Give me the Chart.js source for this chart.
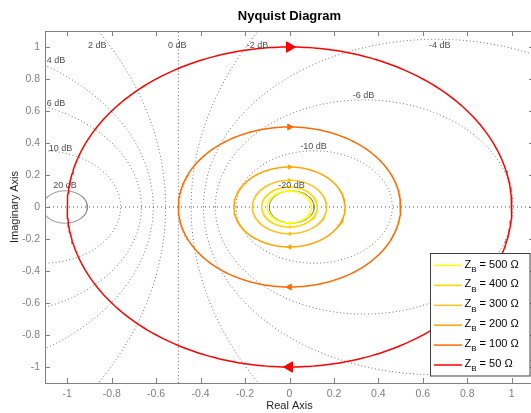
<!DOCTYPE html>
<html>
<head>
<meta charset="utf-8">
<script src="https://cdn.jsdelivr.net/npm/chart.js@4.4.0/dist/chart.umd.min.js"></script>
<style>
  html, body { margin: 0; padding: 0; overflow: hidden; background: #fff; }
  #wrap { width: 536px; height: 413px; }
</style>
</head>
<body>
<div id="wrap"><canvas id="nyquistChart" width="536" height="413"></canvas></div>
<script>
// load impedance and radius of each Nyquist circle
const loads = [500, 400, 300, 200, 100, 50];
const radii = [0.1, 0.125, 0.167, 0.25, 0.5, 1.0];
const lineColors = ["#ffff00", "#ffd700", "#ffc125", "#ffa500", "#ff6a00", "#ff0000"];
const arrowSizes = [1.5, 1.5, 2, 2.5, 3.5, 6];

// constant closed-loop magnitude circles (dB) + where their labels sit
const gridDb = [20, 10, 6, 4, 2, 0, -2, -4, -6, -10, -20];
const labelX = [-1.01, -1.03, -1.05, -1.05, -0.865, -0.505, -0.144, 0.676, 0.333, 0.108, 0.009];
const labelY = [0.133, 0.365, 0.645, 0.917, 1.01, 1.01, 1.01, 1.01, 0.698, 0.381, 0.133];

const xTicks = [-1, -0.8, -0.6, -0.4, -0.2, 0, 0.2, 0.4, 0.6, 0.8, 1];
const yTicks = [-1, -0.8, -0.6, -0.4, -0.2, 0, 0.2, 0.4, 0.6, 0.8, 1];

const family = "'Liberation Sans', Arial, Helvetica, sans-serif";

// points of a circle, clockwise starting at the left (1 degree steps)
function circlePoints(cx, r) {
    const pts = [];
    for (let deg = 180; deg >= -180; deg -= 1) {
        const a = deg * Math.PI / 180;
        pts.push({ x: cx + r * Math.cos(a), y: r * Math.sin(a) });
    }
    return pts;
}

const fmt = v => String(+Number(v).toFixed(1));

const curveSets = loads.map((zb, i) => ({
    label: "Z_B = " + zb + " \u03A9",
    data: circlePoints(0, radii[i]),
    showLine: true,
    borderColor: lineColors[i],
    backgroundColor: lineColors[i],
    borderWidth: 1.5,
    pointStyle: "triangle",
    pointRadius: c => (c.dataIndex === 90 || c.dataIndex === 270) ? arrowSizes[i] : 0,
    pointRotation: c => c.dataIndex === 90 ? 90 : 270,
    pointBackgroundColor: lineColors[i],
    pointBorderColor: lineColors[i],
    pointBorderWidth: 1,
    clip: 0
}));

// M-circles grid
const gridSets = gridDb.map(db => {
    let pts;
    if (db === 0) {
        pts = [{ x: -0.5, y: -1.1 }, { x: -0.5, y: 1.1 }];
    } else {
        const m = Math.pow(10, db / 20);
        const m2 = m * m;
        pts = circlePoints(-m2 / (m2 - 1), Math.abs(m / (m2 - 1)));
    }
    const solid = Math.abs(db) === 20;
    return {
        label: db + " dB",
        data: pts,
        showLine: true,
        borderColor: solid ? "#8c8c8c" : "#707070",
        borderWidth: 1,
        borderDash: solid ? [] : [1, 2.5],
        pointRadius: 0,
        clip: 0
    };
});

const realAxis = {
    label: "real axis",
    data: [{ x: -1.1, y: 0 }, { x: 1.1, y: 0 }],
    showLine: true,
    borderColor: "#4d4d4d",
    borderWidth: 1,
    borderDash: [1, 3],
    pointRadius: 0,
    clip: 0
};

const framePlugin = {
    id: "frame",
    afterDatasetsDraw(chart) {
        const { ctx, chartArea: a, scales: { x, y } } = chart;
        ctx.save();
        // dB labels
        ctx.font = "9px " + family;
        ctx.fillStyle = "#4d4d4d";
        ctx.textAlign = "center";
        ctx.textBaseline = "middle";
        gridDb.forEach((db, i) => {
            ctx.fillText(db + " dB", x.getPixelForValue(labelX[i]), y.getPixelForValue(labelY[i]));
        });
        // box + inward ticks
        ctx.strokeStyle = "#808080";
        ctx.lineWidth = 1;
        ctx.strokeRect(a.left + 0.5, a.top + 0.5, a.width, a.height);
        ctx.beginPath();
        xTicks.forEach(v => {
            const px = Math.round(x.getPixelForValue(v)) + 0.5;
            ctx.moveTo(px, a.bottom); ctx.lineTo(px, a.bottom - 5);
            ctx.moveTo(px, a.top); ctx.lineTo(px, a.top + 5);
        });
        yTicks.forEach(v => {
            const py = Math.round(y.getPixelForValue(v)) + 0.5;
            ctx.moveTo(a.left, py); ctx.lineTo(a.left + 5, py);
            ctx.moveTo(a.right, py); ctx.lineTo(a.right - 5, py);
        });
        ctx.stroke();
        ctx.restore();
    }
};

const legendPlugin = {
    id: "zbLegend",
    afterDraw(chart) {
        const ctx = chart.ctx;
        const x0 = 430.5, y0 = 253.5, w = 99.5, h = 122.5;
        ctx.save();
        ctx.fillStyle = "#fff";
        ctx.fillRect(x0, y0, w, h);
        ctx.strokeStyle = "#404040";
        ctx.lineWidth = 1;
        ctx.strokeRect(x0, y0, w, h);
        loads.forEach((zb, i) => {
            const cy = 265.5 + i * 19.9;
            ctx.strokeStyle = lineColors[i];
            ctx.lineWidth = 1.5;
            ctx.beginPath();
            ctx.moveTo(434, cy);
            ctx.lineTo(462, cy);
            ctx.stroke();
            ctx.fillStyle = "#000";
            ctx.textAlign = "left";
            ctx.textBaseline = "middle";
            let tx = 464.5;
            ctx.font = "11px " + family;
            ctx.fillText("Z", tx, cy - 1);
            tx += ctx.measureText("Z").width;
            ctx.font = "8px " + family;
            ctx.fillText("B", tx, cy + 4);
            tx += ctx.measureText("B").width;
            ctx.font = "11px " + family;
            ctx.fillText(" = " + zb + " \u03A9", tx, cy - 1);
        });
        ctx.restore();
    }
};

new Chart(document.getElementById("nyquistChart").getContext("2d"), {
    type: "scatter",
    data: { datasets: [...curveSets, realAxis, ...gridSets] },
    options: {
        responsive: false,
        animation: false,
        events: [],
        layout: { padding: { left: 0, right: 2, top: 0, bottom: 0 } },
        scales: {
            x: {
                type: "linear",
                min: -1.1,
                max: 1.1,
                afterBuildTicks: s => { s.ticks = xTicks.map(v => ({ value: v })); },
                afterFit: s => { s.height = 30; },
                grid: { display: false, drawTicks: false },
                border: { display: false },
                ticks: { color: "#808080", font: { size: 10.5, family: family }, padding: 5, maxRotation: 0, autoSkip: false, callback: v => fmt(v) },
                title: { display: true, text: "Real Axis", color: "#262626", font: { size: 11, family: family }, padding: { top: 0, bottom: 0 } }
            },
            y: {
                type: "linear",
                min: -1.1,
                max: 1.1,
                afterBuildTicks: s => { s.ticks = yTicks.map(v => ({ value: v })); },
                afterFit: s => { s.width = 45; },
                grid: { display: false, drawTicks: false },
                border: { display: false },
                ticks: { color: "#808080", font: { size: 10.5, family: family }, padding: 5, autoSkip: false, callback: v => fmt(v) },
                title: { display: true, text: "Imaginary Axis", color: "#262626", font: { size: 11, family: family }, padding: { top: 8, bottom: 0 } }
            }
        },
        plugins: {
            legend: { display: false },
            tooltip: { enabled: false },
            title: {
                display: true,
                text: "Nyquist Diagram",
                fullSize: false,
                color: "#000",
                font: { size: 13, weight: "bold", family: family },
                padding: { top: 9, bottom: 6.4 }
            }
        }
    },
    plugins: [framePlugin, legendPlugin]
});
</script>
</body>
</html>
